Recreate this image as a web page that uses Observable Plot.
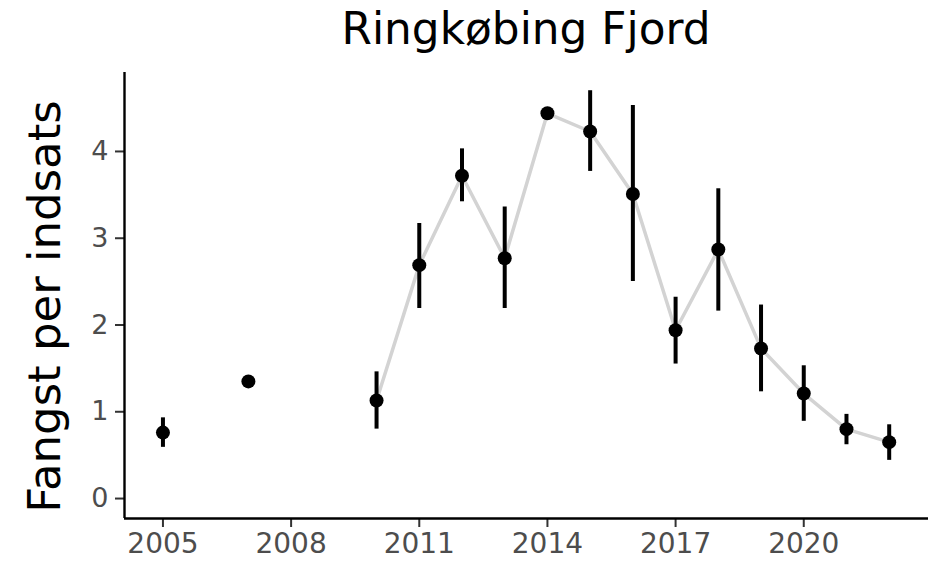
<!DOCTYPE html>
<html>
<head>
<meta charset="utf-8">
<script src="https://cdn.jsdelivr.net/npm/d3@7"></script>
<script src="https://cdn.jsdelivr.net/npm/@observablehq/plot@0.6"></script>
<style>
  body { margin: 0; background: #fff; font-family: "DejaVu Sans", sans-serif; }
  #title { margin-left: 124px; width: 804px; height: 60px; line-height: 58px; text-align: center; font-size: 43.8px; color: #000; white-space: nowrap; }
</style>
</head>
<body>
<div id="title">Ringkøbing Fjord</div>
<div id="chart"></div>
<script>
const titleText = "Ringkøbing Fjord";
const yLabel = "Fangst per indsats";
const years  = [2005, 2006, 2007, 2008, 2009, 2010, 2011, 2012, 2013, 2014, 2015, 2016, 2017, 2018, 2019, 2020, 2021, 2022];
const values = [0.76, null, 1.35, null, null, 1.13, 2.69, 3.72, 2.77, 4.44, 4.23, 3.51, 1.94, 2.87, 1.73, 1.21, 0.80, 0.65];
const lower  = [0.59, null, null, null, null, 0.80, 2.19, 3.42, 2.19, null, 3.77, 2.50, 1.55, 2.16, 1.23, 0.89, 0.62, 0.44];
const upper  = [0.93, null, null, null, null, 1.46, 3.17, 4.03, 3.36, null, 4.70, 4.53, 2.32, 3.57, 2.23, 1.53, 0.97, 0.85];
const xTicks = [2005, 2008, 2011, 2014, 2017, 2020];
const yTicks = [0, 1, 2, 3, 4];

const rows = years.map((year, i) => ({year, value: values[i], lo: lower[i], hi: upper[i]}));
const xDomain = [2004.1, 2022.92];
const yDomain = [-0.23, 4.91];

const chart = Plot.plot({
  width: 937,
  height: 506,
  marginTop: 12,
  marginBottom: 48,
  marginLeft: 124,
  marginRight: 9,
  style: {fontFamily: "DejaVu Sans, sans-serif", background: "#fff", overflow: "visible"},
  x: {domain: xDomain},
  y: {domain: yDomain},
  marks: [
    Plot.axisX({ticks: xTicks, tickFormat: d => String(d), tickSize: 9, tickPadding: 6, fontSize: 28, color: "#4d4d4d", stroke: "#333", strokeWidth: 2, label: null}),
    Plot.axisY({ticks: yTicks, tickFormat: d => String(d), tickSize: 9, tickPadding: 7, fontSize: 27, color: "#4d4d4d", stroke: "#333", strokeWidth: 2, label: null}),
    Plot.ruleY([yDomain[0]], {stroke: "#000", strokeWidth: 2.4}),
    Plot.ruleX([xDomain[0]], {stroke: "#000", strokeWidth: 2.4}),
    Plot.line(rows, {x: "year", y: "value", stroke: "#d3d3d3", strokeWidth: 3.5}),
    Plot.ruleX(rows.filter(d => d.lo != null), {x: "year", y1: "lo", y2: "hi", stroke: "#000", strokeWidth: 4}),
    Plot.dot(rows.filter(d => d.value != null), {x: "year", y: "value", r: 7, fill: "#000", stroke: "none"}),
    Plot.text([yLabel], {frameAnchor: "left", text: d => d, rotate: -90, dx: -79, dy: 11, fontSize: 45, fill: "#000", textAnchor: "middle"})
  ]
});
document.getElementById("chart").appendChild(chart);
</script>
</body>
</html>
